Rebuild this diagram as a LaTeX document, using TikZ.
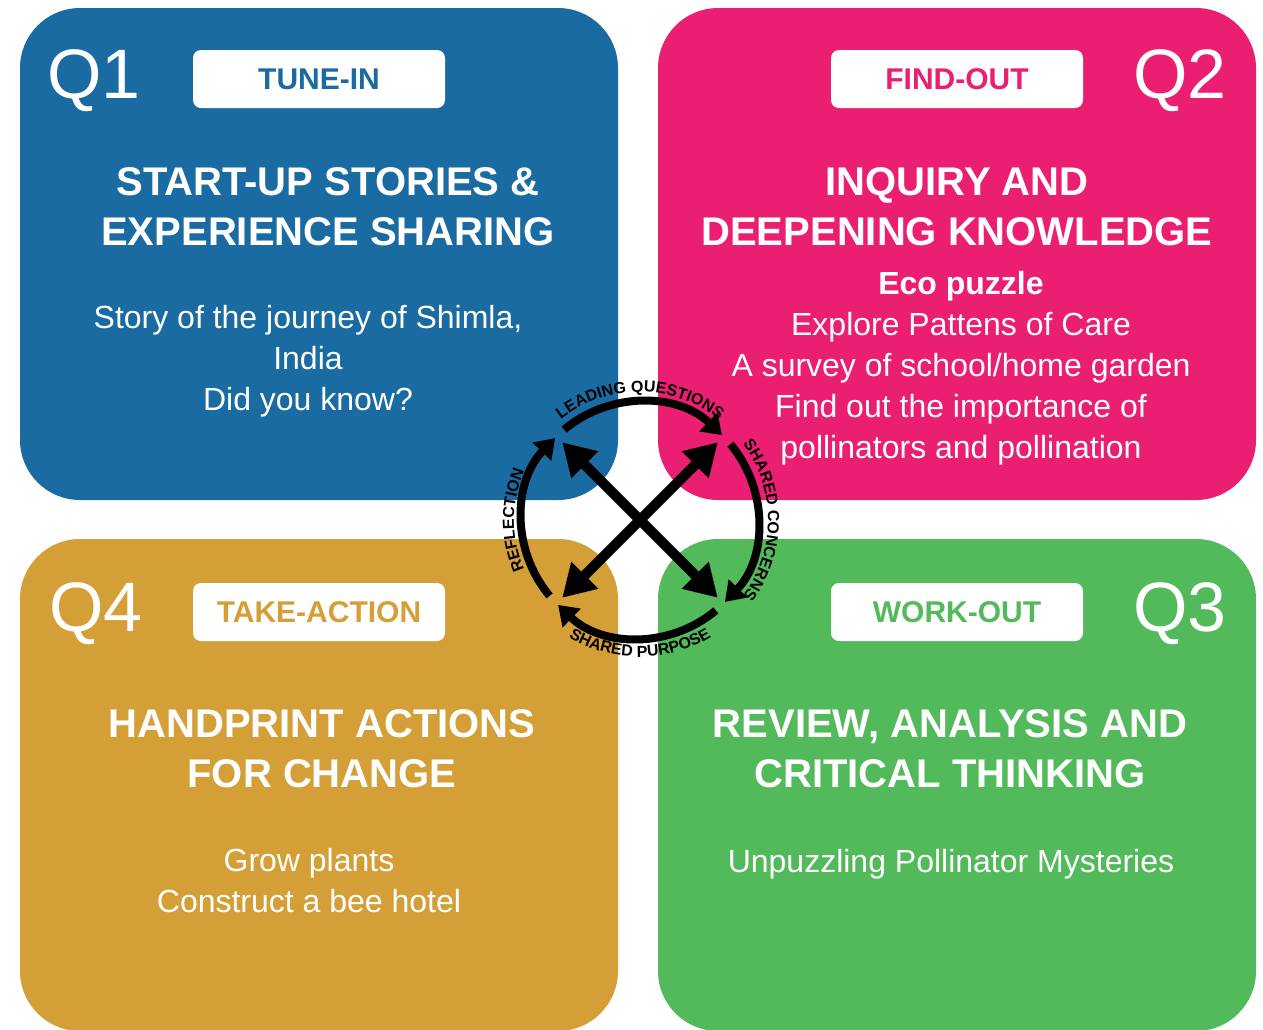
\documentclass[tikz,border=0pt]{standalone}
\usepackage{fontspec}
\setmainfont{Liberation Sans}
\usetikzlibrary{arrows.meta,positioning,decorations.text}
\definecolor{tuneblue}{RGB}{26,107,161}
\definecolor{findpink}{RGB}{234,31,113}
\definecolor{actgold}{RGB}{213,159,56}
\definecolor{workgreen}{RGB}{83,186,91}
\tikzset{ringtext/.style={decorate, decoration={text along path, text align=center,
    text={|\fontsize{16}{16}\selectfont\bfseries|#1}}}}

\begin{document}
\begin{tikzpicture}[x=1pt,y=1pt]
    \tikzstyle{panel}=[rounded corners=60pt, minimum width=598pt, minimum height=492pt, inner sep=0pt]
    \tikzstyle{tab}=[fill=white, rounded corners=8pt, minimum width=252pt, minimum height=58pt, inner sep=0pt, font=\fontsize{30}{36}\selectfont\bfseries]
    \tikzstyle{qlabel}=[anchor=base, text=white, inner sep=0pt, font=\fontsize{70}{84}\selectfont]
    \tikzstyle{heading}=[text=white, align=center, inner sep=0pt, font=\fontsize{40}{50}\selectfont\bfseries]
    \tikzstyle{body}=[text=white, align=center, inner sep=0pt, font=\fontsize{32}{41}\selectfont]
    \tikzstyle{ring}=[line width=8pt, -{Triangle[length=19pt,width=25pt]}]
    \tikzstyle{cross}=[line width=10pt, {Triangle[length=32pt,width=36pt]}-{Triangle[length=32pt,width=36pt]}]
    \useasboundingbox (0,0) rectangle (1263,-1029);

    % quadrants
    \node[panel, fill=tuneblue]  (q1) at (319,-254) {};
    \node[panel, fill=findpink]  (q2) at (957,-254) {};
    \node[panel, fill=workgreen] (q3) at (957,-785) {};
    \node[panel, fill=actgold]   (q4) at (319,-785) {};

    \node[qlabel] (q1lab) at (94,-98)   {Q1};
    \node[qlabel] (q2lab) at (1180,-98) {Q2};
    \node[qlabel] (q3lab) at (1180,-631) {Q3};
    \node[qlabel] (q4lab) at (96,-631)  {Q4};

    \node[tab, text=tuneblue]  (tunein)  at (319,-79)  {TUNE-IN};
    \node[tab, text=findpink]  (findout) at (957,-79)  {FIND-OUT};
    \node[tab, text=workgreen] (workout) at (957,-612) {WORK-OUT};
    \node[tab, text=actgold]   (takeact) at (319,-612) {TAKE-ACTION};

    \node[heading] (q1head) at (328,-207) {START-UP STORIES \&\\EXPERIENCE SHARING};
    \node[body]    (q1body) at (308,-361) {Story of the journey of Shimla,\\India\\Did you know?};
    \node[heading] (q2head) at (957,-207) {INQUIRY AND\\DEEPENING KNOWLEDGE};
    \node[body]    (q2body) at (961,-368) {\textbf{Eco puzzle}\\Explore Pattens of Care\\A survey of school/home garden\\Find out the importance of\\pollinators and pollination};
    \node[heading] (q3head) at (950,-749) {REVIEW, ANALYSIS AND\\CRITICAL THINKING};
    \node[body, anchor=base] (q3body) at (951,-872) {Unpuzzling Pollinator Mysteries};
    \node[heading] (q4head) at (322,-749) {HANDPRINT ACTIONS\\FOR CHANGE};
    \node[body]    (q4body) at (309,-881) {Grow plants\\Construct a bee hotel};

    % cycle in the middle
    \coordinate (hub) at (640,-520);
    \foreach \s/\e in {130/46, 40/-44, -50/-134, -140/-224}
        \draw[ring] ([shift={(\s:118)}]hub) arc[start angle=\s, end angle=\e, radius=118];
    \coordinate (nw) at ([shift={(135:110)}]hub);
    \coordinate (ne) at ([shift={(45:110)}]hub);
    \coordinate (se) at ([shift={(-45:110)}]hub);
    \coordinate (sw) at ([shift={(-135:110)}]hub);
    \draw[cross] (nw) -- (se);
    \draw[cross] (ne) -- (sw);

    \path[ringtext=LEADING QUESTIONS] ([shift={(170:128)}]hub) arc[start angle=170, end angle=10, radius=128];
    \path[ringtext=SHARED CONCERNS] ([shift={(80:128)}]hub) arc[start angle=80, end angle=-80, radius=128];
    \path[ringtext=SHARED PURPOSE] ([shift={(-170:137)}]hub) arc[start angle=-170, end angle=-10, radius=137];
    \path[ringtext=REFLECTION] ([shift={(260:126)}]hub) arc[start angle=260, end angle=100, radius=126];
\end{tikzpicture}
\end{document}
